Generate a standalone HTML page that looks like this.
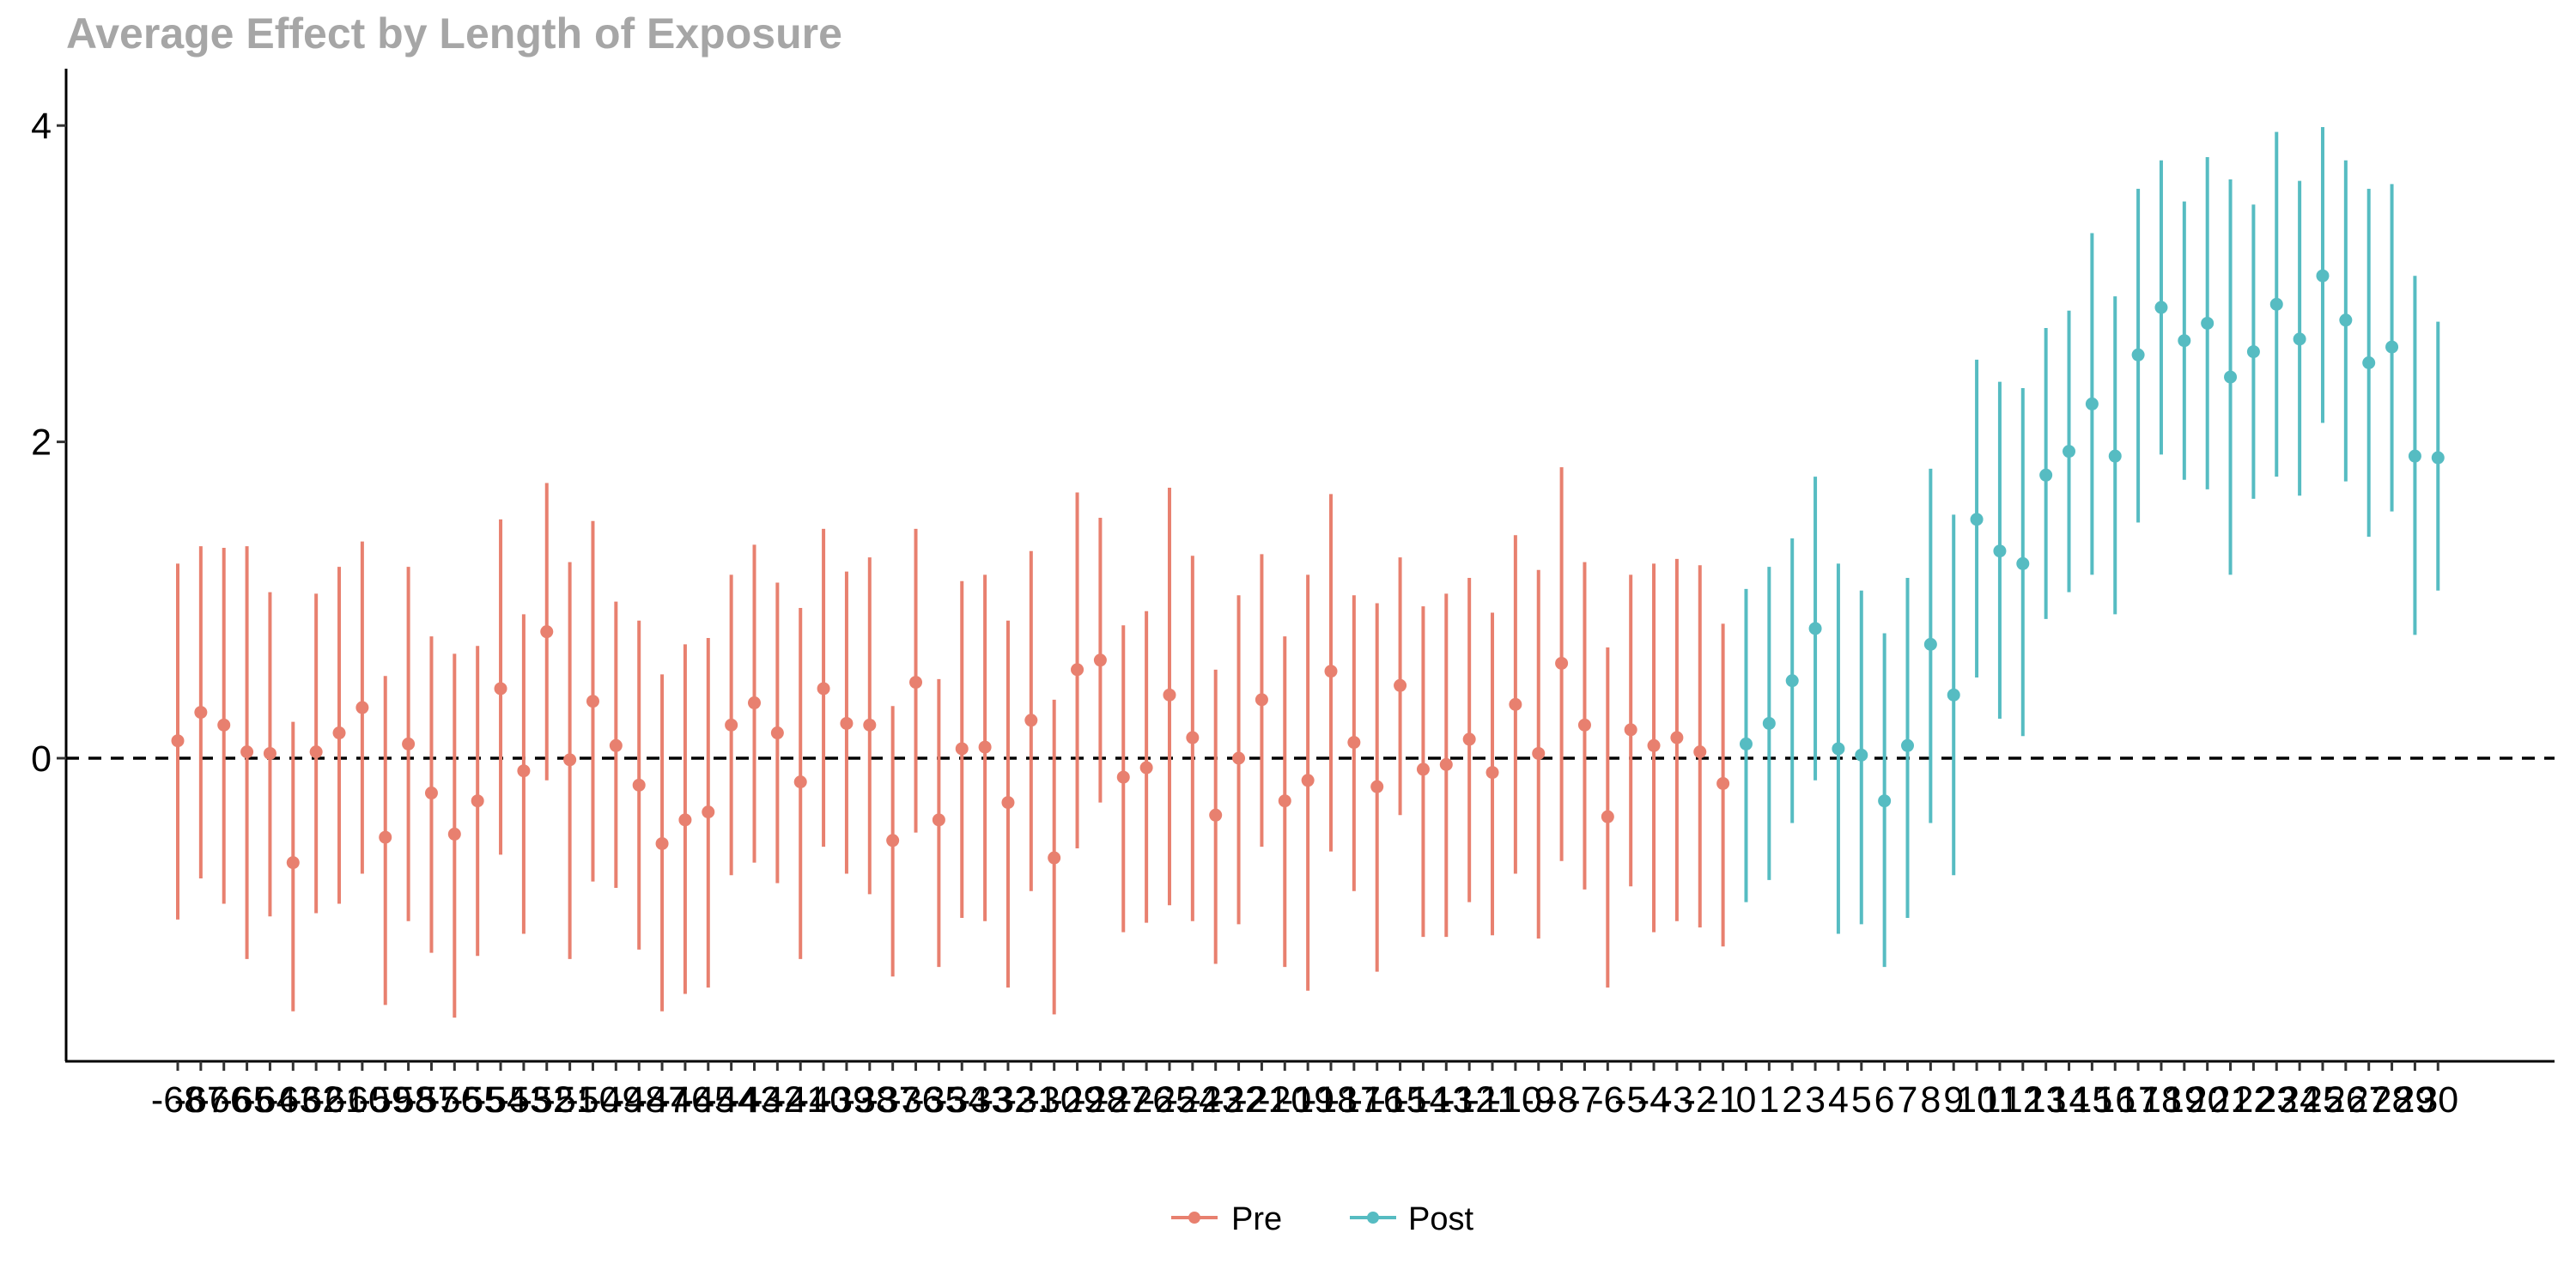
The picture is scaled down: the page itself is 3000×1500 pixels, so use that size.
<!DOCTYPE html>
<html><head><meta charset="utf-8"><style>
html,body{margin:0;padding:0;background:#fff;}
svg{display:block;font-family:"Liberation Sans",Arial,sans-serif;}
</style></head><body>
<svg id="chart" width="3000" height="1500" viewBox="0 0 3000 1500" xmlns="http://www.w3.org/2000/svg">
<text x="77" y="56" font-size="50" font-weight="bold" fill="#A6A6A6">Average Effect by Length of Exposure</text>
<g id="marks"></g>
<line x1="77" y1="80" x2="77" y2="1236" stroke="#000" stroke-width="3"/>
<line x1="76" y1="1236" x2="2975" y2="1236" stroke="#000" stroke-width="3"/>
<g id="ticks"></g>
<g>
 <g>
  <line x1="1364" y1="1418" x2="1418" y2="1418" stroke="#E8806F" stroke-width="4"/>
  <circle cx="1391" cy="1418" r="7" fill="#E8806F"/>
  <text x="1434" y="1432" font-size="38" fill="#000">Pre</text>
 </g>
 <g>
  <line x1="1572" y1="1418" x2="1626" y2="1418" stroke="#56BCC2" stroke-width="4"/>
  <circle cx="1599" cy="1418" r="7" fill="#56BCC2"/>
  <text x="1640" y="1432" font-size="38" fill="#000">Post</text>
 </g>
</g>
</svg>
<script>
const preEst=[0.11,0.29,0.21,0.04,0.03,-0.66,0.04,0.16,0.32,-0.5,0.09,-0.22,-0.48,-0.27,0.44,-0.08,0.80,-0.01,0.36,0.08,-0.17,-0.54,-0.39,-0.34,0.21,0.35,0.16,-0.15,0.44,0.22,0.21,-0.52,0.48,-0.39,0.06,0.07,-0.28,0.24,-0.63,0.56,0.62,-0.12,-0.06,0.40,0.13,-0.36,0.0,0.37,-0.27,-0.14,0.55,0.1,-0.18,0.46,-0.07,-0.04,0.12,-0.09,0.34,0.03,0.6,0.21,-0.37,0.18,0.08,0.13,0.04,-0.16];
const preHi=[1.23,1.34,1.33,1.34,1.05,0.23,1.04,1.21,1.37,0.52,1.21,0.77,0.66,0.71,1.51,0.91,1.74,1.24,1.50,0.99,0.87,0.53,0.72,0.76,1.16,1.35,1.11,0.95,1.45,1.18,1.27,0.33,1.45,0.50,1.12,1.16,0.87,1.31,0.37,1.68,1.52,0.84,0.93,1.71,1.28,0.56,1.03,1.29,0.77,1.16,1.67,1.03,0.98,1.27,0.96,1.04,1.14,0.92,1.41,1.19,1.84,1.24,0.70,1.16,1.23,1.26,1.22,0.85];
const preLo=[-1.02,-0.76,-0.92,-1.27,-1.0,-1.6,-0.98,-0.92,-0.73,-1.56,-1.03,-1.23,-1.64,-1.25,-0.61,-1.11,-0.14,-1.27,-0.78,-0.82,-1.21,-1.6,-1.49,-1.45,-0.74,-0.66,-0.79,-1.27,-0.56,-0.73,-0.86,-1.38,-0.47,-1.32,-1.01,-1.03,-1.45,-0.84,-1.62,-0.57,-0.28,-1.1,-1.04,-0.93,-1.03,-1.30,-1.05,-0.56,-1.32,-1.47,-0.59,-0.84,-1.35,-0.36,-1.13,-1.13,-0.91,-1.12,-0.73,-1.14,-0.65,-0.83,-1.45,-0.81,-1.1,-1.03,-1.07,-1.19];
const postEst=[0.09,0.22,0.49,0.82,0.06,0.02,-0.27,0.08,0.72,0.40,1.51,1.31,1.23,1.79,1.94,2.24,1.91,2.55,2.85,2.64,2.75,2.41,2.57,2.87,2.65,3.05,2.77,2.50,2.60,1.91,1.90];
const postHi=[1.07,1.21,1.39,1.78,1.23,1.06,0.79,1.14,1.83,1.54,2.52,2.38,2.34,2.72,2.83,3.32,2.92,3.60,3.78,3.52,3.80,3.66,3.50,3.96,3.65,3.99,3.78,3.60,3.63,3.05,2.76];
const postLo=[-0.91,-0.77,-0.41,-0.14,-1.11,-1.05,-1.32,-1.01,-0.41,-0.74,0.51,0.25,0.14,0.88,1.05,1.16,0.91,1.49,1.92,1.76,1.70,1.16,1.64,1.78,1.66,2.12,1.75,1.40,1.56,0.78,1.06];
const yTicks=[0,2,4];
const xStart=-68;
const NS='http://www.w3.org/2000/svg';
function xs(v){return 207+(v-xStart)*26.86;}
function ys(v){return 883-v*184.2;}
const marks=document.getElementById('marks');
const ticks=document.getElementById('ticks');
function mk(tag,attrs,parent){const e=document.createElementNS(NS,tag);for(const k in attrs)e.setAttribute(k,attrs[k]);parent.appendChild(e);return e;}
const zl=mk('line',{x1:77,x2:2975,y1:ys(0),y2:ys(0),stroke:'#000','stroke-width':3.5,'stroke-dasharray':'15,11'},marks);


function series(est,hi,lo,start,color,name){
 for(let i=0;i<est.length;i++){
  const x=xs(start+i);
  const l=mk('line',{x1:x,x2:x,y1:ys(hi[i]),y2:ys(lo[i]),stroke:color,'stroke-width':4},marks);
  
  
  const c=mk('circle',{cx:x,cy:ys(est[i]),r:7.5,fill:color},marks);
  
  
 }
}
series(preEst,preHi,preLo,xStart,'#E8806F','pre');
series(postEst,postHi,postLo,0,'#56BCC2','post');
const nTot=preEst.length+postEst.length;
for(let i=0;i<nTot;i++){
 const v=xStart+i,x=xs(v);
 const t=mk('line',{x1:x,x2:x,y1:1236,y2:1247,stroke:'#333','stroke-width':3},ticks);
 
 
 const tx=mk('text',{x:x,y:1295,'font-size':43,'text-anchor':'middle',fill:'#000'},ticks);
 tx.textContent=String(v);
 
 
}
yTicks.forEach(v=>{
 const y=ys(v);
 const t=mk('line',{x1:66,x2:77,y1:y,y2:y,stroke:'#333','stroke-width':3},ticks);
 
 
 const tx=mk('text',{x:60,y:y+15,'font-size':43,'text-anchor':'end',fill:'#000'},ticks);
 tx.textContent=String(v);
 
 
});
</script>
</body></html>
